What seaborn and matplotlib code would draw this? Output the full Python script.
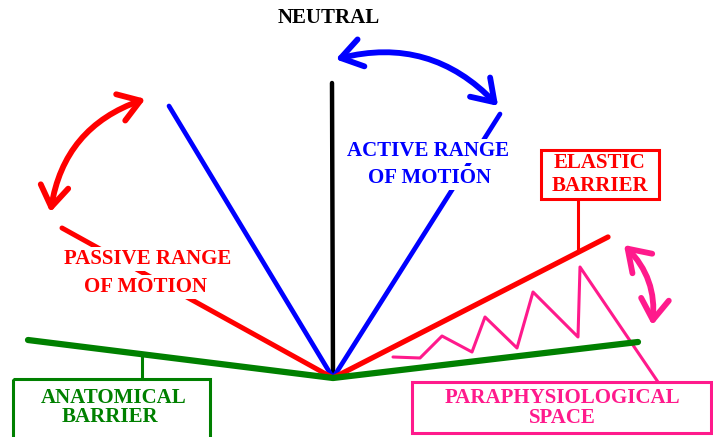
import matplotlib
matplotlib.use("Agg")
import matplotlib.pyplot as plt
import seaborn as sns
from matplotlib.patches import Rectangle, FancyArrowPatch

# ---- diagram data (pixel space of a 713x437 canvas, y down) ----
origin = (333, 378)
neutral_end = (332, 83)
active_left_end = (169, 106)
active_right_end = (500, 114)
passive_end = (62, 228)
elastic_end = (608, 237)
anatomical_x = [28, 333, 638]
anatomical_y = [340, 378, 342]
zigzag_x = [393, 420, 442, 472, 485, 517, 533, 578, 580, 658]
zigzag_y = [357, 358, 336, 352, 317, 348, 292, 337, 267, 382]

labels = {
    "neutral": ["NEUTRAL"],
    "active": ["ACTIVE RANGE", "OF MOTION"],
    "passive": ["PASSIVE RANGE", "OF MOTION"],
    "elastic": ["ELASTIC", "BARRIER"],
    "anatomical": ["ANATOMICAL", "BARRIER"],
    "para": ["PARAPHYSIOLOGICAL", "SPACE"],
}

RED = "#ff0000"
BLUE = "#0000ff"
GREEN = "#008000"
PINK = "#ff1a8c"
BLACK = "#000000"

sns.set_theme(style="white")
plt.rcParams["font.family"] = ["Liberation Serif", "DejaVu Serif"]

fig = plt.figure(figsize=(7.13, 4.37), dpi=100)
ax = fig.add_axes([0, 0, 1, 1])
ax.set_xlim(0, 713)
ax.set_ylim(437, 0)
ax.axis("off")

def seg(p, q, color, lw, z=2):
    sns.lineplot(x=[p[0], q[0]], y=[p[1], q[1]], sort=False, estimator=None,
                 color=color, linewidth=lw, ax=ax, solid_capstyle="round", zorder=z)

seg(origin, neutral_end, BLACK, 3.2)
seg(origin, active_left_end, BLUE, 3.4)
seg(origin, active_right_end, BLUE, 3.4)
seg(origin, passive_end, RED, 3.6)
seg(origin, elastic_end, RED, 3.8)
sns.lineplot(x=anatomical_x, y=anatomical_y, sort=False, estimator=None,
             color=GREEN, linewidth=4.5, ax=ax, solid_capstyle="round", zorder=3)
sns.lineplot(x=zigzag_x, y=zigzag_y, sort=False, estimator=None,
             color=PINK, linewidth=2.2, ax=ax, zorder=2.5)

# connectors
seg((578, 199), (578, 252), RED, 2.2, 1.5)
seg((142, 355), (142, 379), GREEN, 2.2, 1.5)

# boxes
ax.add_patch(Rectangle((541, 150), 118, 49, fill=False, edgecolor=RED, linewidth=2.2, zorder=4))
ax.add_patch(Rectangle((13, 379), 197, 70, fill=False, edgecolor=GREEN, linewidth=2.2, zorder=4))
ax.add_patch(Rectangle((412, 382), 299, 51, fill=False, edgecolor=PINK, linewidth=2.2, zorder=4))

# curved double arrows
def darrow(a, b, rad, color):
    ar = FancyArrowPatch(a, b, connectionstyle=f"arc3,rad={rad}",
                         arrowstyle="<->,head_length=0.75,head_width=0.5",
                         mutation_scale=20, color=color, linewidth=4.2,
                         capstyle="round", joinstyle="round", zorder=5)
    ax.add_patch(ar)

darrow((50, 215), (148, 98), -0.31, RED)
darrow((333, 60), (500, 108), -0.3, BLUE)
darrow((622, 243), (652, 328), -0.25, PINK)

def txt(x, y, s, color, bg=True):
    kw = dict(ha="center", va="center", fontsize=15, fontweight="bold", color=color, zorder=6)
    if bg:
        kw["bbox"] = dict(facecolor="white", edgecolor="none", pad=1.5)
    ax.text(x, y, s, **kw)

txt(329, 18, labels["neutral"][0], BLACK, False)
txt(428, 151, labels["active"][0], BLUE)
txt(430, 178, labels["active"][1], BLUE)
txt(148, 259, labels["passive"][0], RED)
txt(146, 287, labels["passive"][1], RED)
txt(600, 163, labels["elastic"][0], RED, False)
txt(600, 186, labels["elastic"][1], RED, False)
txt(114, 398, labels["anatomical"][0], GREEN, False)
txt(110, 417, labels["anatomical"][1], GREEN, False)
txt(562, 398, labels["para"][0], PINK, False)
txt(562, 418, labels["para"][1], PINK, False)

fig.savefig("out.png", dpi=100, facecolor="white")
